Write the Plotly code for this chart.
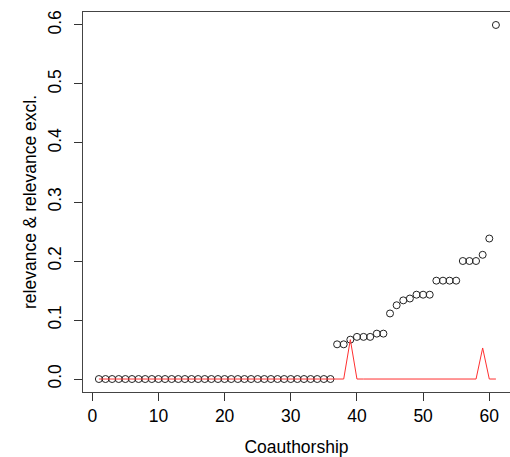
import plotly.graph_objects as go

x_vals = list(range(1, 62))
relevance = [0.0] * 36 + [
    0.0588, 0.0588, 0.0667, 0.0714, 0.0714, 0.0714, 0.0769, 0.0769,
    0.1111, 0.125, 0.1333, 0.1364, 0.1429, 0.1429, 0.1429,
    0.1667, 0.1667, 0.1667, 0.1667, 0.2, 0.2, 0.2, 0.2105, 0.2381, 0.6,
]
relevance_excl = [0.0] * 38 + [0.0667] + [0.0] * 19 + [0.0526, 0.0, 0.0]

x_ticks = [0, 10, 20, 30, 40, 50, 60]
y_ticks = [0.0, 0.1, 0.2, 0.3, 0.4, 0.5, 0.6]
y_tick_labels = ["0.0", "0.1", "0.2", "0.3", "0.4", "0.5", "0.6"]

fig = go.Figure()
fig.add_trace(go.Scatter(
    x=x_vals, y=relevance, mode="markers",
    marker=dict(symbol="circle-open", size=7, color="#222",
                line=dict(width=1, color="#222")),
    showlegend=False,
))
fig.add_trace(go.Scatter(
    x=x_vals, y=relevance_excl, mode="lines",
    line=dict(color="#ff3030", width=1),
    showlegend=False,
))

font = dict(family="Liberation Sans, Arial, sans-serif", size=17.5, color="black")

fig.update_layout(
    width=510, height=457,
    margin=dict(l=83, r=0, t=12, b=65),
    paper_bgcolor="white", plot_bgcolor="white",
    font=font,
    xaxis=dict(
        range=[-1.4, 63.13], tickvals=x_ticks, ticks="outside", ticklen=8,
        tickcolor="#333", showline=True, linecolor="#444", linewidth=1,
        mirror=True, showgrid=False, zeroline=False,
        title=dict(text="Coauthorship", font=font, standoff=17),
    ),
    yaxis=dict(
        range=[-0.022, 0.622], tickvals=y_ticks, ticktext=y_tick_labels,
        ticks="outside", ticklen=8, tickcolor="#333", tickangle=-90,
        showline=True, linecolor="#444", linewidth=1, mirror=False,
        showgrid=False, zeroline=False, ticklabelstandoff=6,
        title=dict(text="relevance & relevance excl.", font=font, standoff=3),
    ),
)

fig.write_html(
    "out.html",
    config={"displayModeBar": False},
    post_script="document.body.style.margin='0';document.body.style.padding='0';",
)
